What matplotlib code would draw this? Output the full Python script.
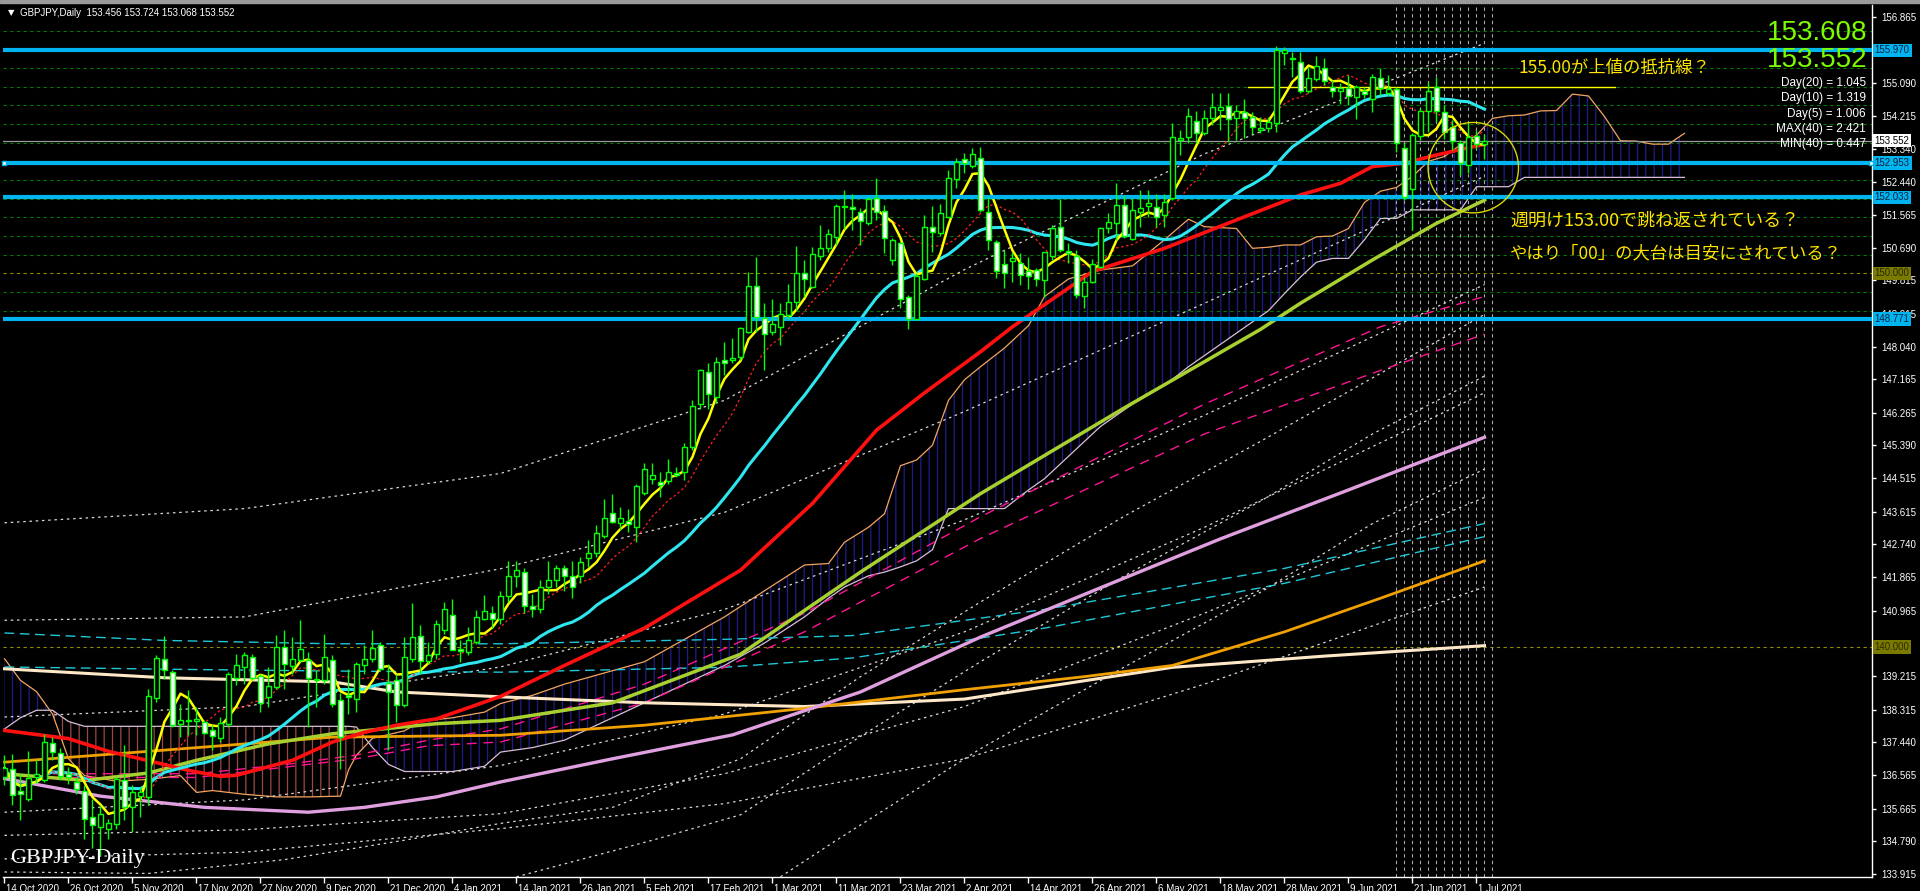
import numpy as np
import pandas as pd
import matplotlib
matplotlib.use("Agg")
import matplotlib.pyplot as plt
from matplotlib.patches import Ellipse, Rectangle
from matplotlib.transforms import blended_transform_factory, ScaledTranslation

# ---------------- data ----------------
date_labels = ["14 Oct 2020", "26 Oct 2020", "5 Nov 2020", "17 Nov 2020", "27 Nov 2020",
               "9 Dec 2020", "21 Dec 2020", "4 Jan 2021", "14 Jan 2021", "26 Jan 2021",
               "5 Feb 2021", "17 Feb 2021", "1 Mar 2021", "11 Mar 2021", "23 Mar 2021",
               "2 Apr 2021", "14 Apr 2021", "26 Apr 2021", "6 May 2021", "18 May 2021",
               "28 May 2021", "9 Jun 2021", "21 Jun 2021", "1 Jul 2021"]

opens = [136.50, 136.74, 136.13, 135.93, 136.50, 136.42, 137.43, 137.15, 136.60, 136.38,
         136.14, 135.44, 135.17, 135.13, 135.26, 136.42, 135.71, 136.00, 135.98, 138.64,
         139.68, 139.32, 137.94, 138.00, 138.00, 137.98, 137.76, 137.57, 137.94, 139.16,
         139.46, 139.73, 139.23, 138.66, 138.92, 139.99, 139.48, 139.64, 139.64, 139.14,
         139.10, 139.64, 138.58, 138.70, 138.61, 139.50, 139.68, 140.05, 139.03, 139.10,
         138.43, 139.68, 140.28, 139.62, 139.82, 140.44, 140.85, 139.95, 139.86, 140.13,
         140.75, 140.90, 140.75, 141.35, 141.90, 142.00, 141.10, 141.00, 141.60, 141.80,
         142.10, 141.90, 141.90, 142.39, 142.52, 142.97, 143.59, 143.32, 143.37, 143.21,
         144.12, 144.50, 144.42, 144.45, 144.66, 144.69, 145.34, 146.50, 147.37, 146.68,
         147.67, 147.68, 147.75, 148.44, 149.67, 148.81, 148.44, 148.55, 148.88, 149.24,
         150.00, 149.64, 150.46, 150.67, 150.96, 151.77, 151.77, 151.65, 151.36, 152.01,
         151.68, 150.36, 150.80, 149.36, 148.77, 149.86, 151.25, 151.09, 151.52, 152.52,
         153.05, 152.87, 153.10, 151.65, 150.83, 150.24, 150.33, 150.29, 150.05, 150.09,
         149.82, 150.46, 151.25, 150.60, 150.47, 149.40, 149.76, 150.16, 151.21, 151.34,
         151.83, 150.91, 151.65, 151.80, 151.79, 151.56, 152.01, 153.57, 153.64, 154.09,
         153.75, 154.15, 154.37, 154.48, 154.15, 154.31, 154.18, 153.84, 153.90, 154.03,
         155.91, 155.78, 155.65, 154.88, 155.20, 155.51, 154.98, 154.88, 154.95, 154.73,
         154.88, 154.66, 155.24, 154.82, 154.94, 153.37, 152.25, 153.68, 154.35, 155.00,
         154.33, 153.93, 153.48, 152.90, 153.68, 153.456]
highs = [137.10, 137.14, 136.60, 137.20, 137.00, 137.67, 137.58, 137.30, 136.78, 136.50,
         136.30, 135.93, 135.75, 135.40, 136.51, 137.36, 136.29, 136.25, 138.88, 139.77,
         140.30, 139.37, 138.48, 138.83, 138.40, 138.03, 137.90, 138.12, 139.32, 139.82,
         139.86, 139.82, 139.28, 139.46, 140.31, 140.44, 140.26, 140.71, 139.86, 139.37,
         140.35, 139.77, 138.75, 139.41, 139.60, 140.04, 140.44, 140.13, 139.55, 139.28,
         140.26, 141.18, 140.57, 140.13, 140.71, 141.20, 141.29, 140.17, 140.53, 140.98,
         141.38, 141.10, 141.50, 142.30, 142.30, 142.10, 141.40, 141.80, 142.30, 142.20,
         142.20, 142.30, 142.40, 142.86, 143.26, 143.95, 144.09, 143.75, 143.68, 144.36,
         144.91, 144.91, 144.69, 145.04, 144.82, 145.45, 146.62, 147.45, 147.59, 147.77,
         148.15, 148.28, 148.57, 150.04, 150.43, 149.20, 149.30, 149.20, 149.71, 150.73,
         150.37, 150.71, 151.29, 151.18, 151.86, 152.23, 152.12, 151.74, 152.05, 152.54,
         151.83, 150.94, 150.85, 149.42, 150.00, 151.56, 151.80, 151.87, 152.77, 153.08,
         153.21, 153.37, 153.39, 152.05, 150.89, 150.63, 150.58, 150.54, 150.45, 150.14,
         150.58, 151.30, 151.98, 150.81, 150.63, 149.91, 150.38, 151.25, 151.61, 152.41,
         152.10, 152.01, 152.23, 152.23, 152.12, 152.13, 154.02, 153.84, 154.42, 154.35,
         154.37, 154.82, 154.82, 154.82, 154.51, 154.67, 154.33, 154.18, 154.18, 156.09,
         156.07, 155.93, 155.93, 155.53, 155.82, 155.76, 155.18, 155.09, 155.31, 155.04,
         155.00, 155.35, 155.49, 155.31, 155.00, 153.48, 153.75, 154.44, 155.13, 155.27,
         154.51, 154.10, 153.57, 154.02, 153.84, 153.724]
lows = [136.30, 135.75, 135.35, 135.88, 136.35, 136.38, 136.96, 136.42, 136.33, 136.07,
        134.86, 134.60, 134.40, 134.86, 135.12, 135.35, 135.04, 135.44, 135.75, 138.52,
        139.15, 137.85, 137.58, 137.63, 137.63, 137.67, 137.23, 137.45, 137.85, 138.97,
        139.01, 139.10, 138.25, 138.39, 138.88, 138.88, 139.28, 139.59, 137.85, 138.39,
        139.01, 138.39, 136.73, 138.21, 138.25, 139.28, 139.59, 139.37, 137.23, 137.99,
        138.39, 139.59, 139.28, 139.55, 139.68, 140.35, 139.91, 139.60, 139.77, 140.08,
        140.71, 140.50, 140.60, 141.20, 141.60, 140.90, 140.80, 140.90, 141.40, 141.60,
        141.50, 141.30, 141.70, 142.14, 142.41, 142.90, 143.31, 143.12, 143.08, 142.81,
        144.06, 144.37, 144.02, 144.37, 144.55, 144.46, 145.27, 146.38, 146.38, 146.53,
        147.28, 147.59, 147.68, 148.39, 148.44, 147.41, 148.35, 148.08, 148.79, 149.02,
        149.37, 149.60, 150.36, 150.58, 150.76, 151.20, 151.16, 150.76, 151.30, 151.43,
        150.54, 150.22, 149.06, 148.50, 148.75, 149.82, 150.58, 151.00, 151.47, 152.28,
        152.68, 152.81, 151.65, 150.63, 149.87, 149.60, 149.78, 149.69, 149.57, 149.65,
        149.38, 150.36, 150.58, 150.27, 149.33, 149.07, 149.74, 150.14, 151.07, 150.89,
        150.94, 150.89, 151.25, 151.52, 151.25, 151.25, 151.96, 153.17, 153.48, 153.48,
        153.71, 153.97, 153.84, 153.52, 153.57, 153.62, 153.73, 153.75, 153.79, 153.79,
        155.58, 155.27, 154.82, 154.82, 155.16, 155.04, 154.73, 154.53, 154.51, 154.12,
        154.69, 154.33, 154.77, 154.77, 153.26, 151.96, 151.16, 153.57, 153.79, 154.06,
        153.61, 153.30, 152.63, 152.68, 153.32, 153.068]
closes = [136.75, 136.02, 136.06, 136.49, 136.60, 137.45, 137.18, 136.53, 136.52, 136.20,
          135.40, 135.22, 135.53, 135.28, 136.47, 135.71, 136.11, 136.10, 138.67, 139.71,
          139.39, 137.90, 138.05, 138.04, 138.06, 137.69, 137.60, 137.96, 139.28, 139.52,
          139.79, 139.17, 138.49, 138.94, 139.99, 139.53, 139.66, 139.95, 139.17, 139.10,
          139.73, 138.46, 137.58, 138.66, 139.55, 139.68, 139.98, 139.41, 138.79, 138.43,
          139.73, 140.26, 139.62, 139.79, 140.60, 141.00, 139.92, 139.90, 140.19, 140.80,
          140.96, 140.75, 141.35, 141.90, 142.05, 141.10, 141.00, 141.60, 141.80, 142.10,
          141.90, 141.60, 142.27, 142.50, 143.05, 143.44, 143.35, 143.44, 143.30, 144.30,
          144.75, 144.59, 144.33, 144.69, 144.60, 145.34, 146.46, 147.41, 146.77, 147.62,
          147.61, 147.74, 148.53, 149.66, 148.82, 148.37, 148.64, 148.90, 149.24, 150.00,
          149.86, 150.51, 150.67, 151.05, 151.81, 151.81, 151.71, 151.41, 151.98, 151.65,
          150.94, 150.89, 149.30, 148.77, 149.94, 151.25, 151.11, 151.61, 152.56, 152.99,
          152.96, 153.19, 151.70, 150.89, 150.07, 150.02, 150.40, 149.96, 149.93, 149.84,
          150.56, 151.22, 150.63, 150.54, 149.42, 149.76, 150.24, 151.22, 151.38, 151.83,
          151.00, 151.70, 151.74, 151.88, 151.52, 151.92, 153.64, 153.62, 154.21, 153.77,
          154.15, 154.46, 154.46, 154.12, 154.35, 154.15, 153.93, 153.90, 154.06, 155.98,
          155.98, 155.74, 154.88, 155.24, 155.56, 155.15, 154.89, 154.95, 154.75, 154.98,
          154.80, 155.27, 154.95, 154.94, 153.48, 152.05, 153.71, 154.36, 154.89, 154.35,
          153.79, 153.55, 152.96, 153.66, 153.46, 153.552]

# long moving averages, read at a few bars (bar index, price)
red_idx = [0, 8, 13, 17, 23, 27, 29, 36, 41, 45, 49, 54, 62, 70, 80, 92, 101, 109, 115, 122,
           126, 136, 145, 154, 162, 167, 171, 175, 179, 185]
red_val = [137.76, 137.54, 137.20, 137.00, 136.69, 136.53, 136.56, 136.96, 137.45, 137.71,
           137.90, 138.07, 138.67, 139.50, 140.50, 142.05, 143.84, 145.80, 146.80, 147.90,
           148.57, 150.05, 150.67, 151.43, 152.10, 152.41, 152.86, 152.95, 153.17, 153.46]
lime_idx = [0, 10, 18, 24, 33, 41, 54, 62, 76, 92, 107, 122, 140, 157, 162, 171, 179, 185]
lime_val = [136.60, 136.42, 136.62, 136.96, 137.40, 137.67, 137.94, 138.03, 138.50, 139.80,
            142.00, 144.10, 146.40, 148.50, 149.20, 150.36, 151.34, 151.96]
pink_idx = [0, 12, 25, 38, 45, 54, 62, 76, 91, 107, 122, 137, 152, 168, 185]
pink_val = [136.47, 136.00, 135.70, 135.57, 135.70, 135.98, 136.38, 137.00, 137.64, 138.79,
            140.26, 141.58, 142.89, 144.20, 145.61]
orange_idx = [0, 18, 41, 62, 80, 100, 120, 135, 146, 160, 172, 185]
orange_val = [136.91, 137.20, 137.58, 137.63, 137.90, 138.35, 138.85, 139.20, 139.50, 140.40,
              141.30, 142.30]
cream_idx = [0, 20, 41, 49, 58, 62, 80, 100, 120, 146, 165, 185]
cream_val = [139.41, 139.17, 139.06, 138.79, 138.70, 138.66, 138.50, 138.40, 138.60, 139.45,
             139.75, 140.03]
cyan_d1_idx = [0, 20, 41, 62, 90, 106, 130, 160, 185]
cyan_d1_val = [140.37, 140.17, 140.08, 140.08, 140.20, 140.30, 141.00, 142.10, 143.30]
cyan_d2_idx = [0, 20, 41, 62, 90, 106, 130, 160, 185]
cyan_d2_val = [139.46, 139.40, 139.35, 139.32, 139.45, 139.70, 140.50, 141.70, 142.95]
mag_d1_idx = [6, 24, 36, 44, 53, 62, 80, 100, 122, 150, 172, 185]
mag_d1_val = [136.60, 136.60, 136.87, 137.10, 137.50, 137.80, 139.00, 140.90, 143.48, 146.50,
              148.57, 149.38]
mag_d2_idx = [6, 24, 36, 44, 53, 62, 80, 100, 122, 150, 172, 185]
mag_d2_val = [136.50, 136.50, 136.80, 137.00, 137.35, 137.45, 138.50, 140.40, 142.90, 145.70,
              147.40, 148.37]

# dotted envelope lines (band index list, values)
env_idx = [0, 30, 62, 90, 120, 150, 185]
env_vals = [
    [143.32, 143.70, 144.64, 146.60, 150.10, 153.20, 156.16],
    [140.71, 140.80, 142.09, 143.60, 146.30, 149.20, 152.60],
    [138.12, 138.40, 139.46, 141.00, 143.40, 146.20, 149.70],
    [135.57, 135.90, 136.82, 138.20, 140.40, 143.20, 146.80],
    [134.95, 135.10, 135.53, 136.60, 138.40, 140.90, 144.00],
    [134.32, 134.50, 135.13, 135.80, 137.00, 139.00, 141.60],
]
low_env1_idx = [0, 18, 35, 50, 62, 76, 92, 107, 122, 140, 157, 185]
low_env1_val = [133.97, 133.93, 134.30, 134.82, 135.27, 135.70, 137.00, 139.20, 141.20, 143.50,
                145.50, 148.90]
low_env2_idx = [64, 81, 92, 107, 122, 140, 157, 171, 185]
low_env2_val = [133.84, 134.82, 135.50, 137.60, 139.60, 141.90, 143.90, 145.70, 147.25]
low_env3_idx = [97, 104, 122, 140, 157, 171, 185]
low_env3_val = [133.84, 134.82, 137.27, 139.46, 141.46, 143.30, 144.76]

# ichimoku cloud (shifted), bar index, span A, span B
kumo_idx = [0, 2, 4, 6, 8, 10, 14, 18, 22, 24, 26, 30, 34, 38, 42, 43, 44, 46, 48, 50, 52, 56,
            60, 62, 66, 70, 75, 80, 85, 90, 95, 100, 103, 105, 108, 110, 112, 114, 116, 118,
            120, 122, 125, 128, 130, 133, 137, 141, 145, 148, 150, 154, 156, 158, 160, 162,
            164, 166, 168, 170, 172, 174, 176, 178, 180, 182, 184, 186, 188, 190, 192, 194,
            196, 198, 200, 202, 204, 206, 208, 210]
span_a = [139.68, 139.10, 138.80, 138.20, 137.00, 136.55, 136.40, 136.45, 136.55, 136.10,
          136.15, 136.05, 135.98, 135.98, 136.00, 136.70, 137.10, 137.55, 137.65, 137.75,
          138.00, 138.10, 138.25, 138.48, 138.70, 139.00, 139.30, 139.60, 140.20, 140.80,
          141.50, 142.19, 142.23, 142.80, 143.20, 143.56, 144.85, 145.00, 145.40, 146.60,
          147.15, 147.50, 148.00, 148.60, 149.38, 149.85, 150.09, 150.20, 150.90, 151.45,
          151.25, 151.20, 150.67, 150.70, 150.76, 150.76, 150.98, 151.00, 151.20, 151.90,
          152.20, 152.30, 152.60, 153.00, 153.13, 153.44, 153.70, 154.15, 154.22, 154.24,
          154.35, 154.36, 154.80, 154.75, 154.20, 153.55, 153.54, 153.46, 153.46, 153.75]
span_b = [137.80, 138.10, 138.30, 138.30, 138.00, 137.87, 137.87, 137.87, 137.87, 137.87,
          137.87, 137.87, 137.87, 137.87, 137.87, 137.87, 137.85, 137.30, 136.85, 136.66,
          136.66, 136.66, 136.80, 137.18, 137.30, 137.50, 138.00, 138.50, 139.00, 139.50,
          140.10, 140.80, 141.30, 141.60, 141.90, 142.00, 142.14, 142.30, 142.60, 143.70,
          143.70, 143.70, 143.70, 144.20, 144.50, 145.10, 145.90, 146.50, 147.00, 147.50,
          147.80, 148.40, 148.70, 149.00, 149.46, 149.90, 150.30, 150.40, 150.40, 150.90,
          151.47, 151.47, 151.70, 151.70, 151.70, 151.70, 152.32, 152.32, 152.32, 152.57,
          152.57, 152.57, 152.57, 152.57, 152.57, 152.57, 152.57, 152.57, 152.57, 152.57]

# horizontal levels
cyan_levels = [155.970, 152.953, 152.033, 148.771]
olive_levels = [150.000, 140.000]
grid_levels = [156.5, 156.0, 155.5, 155.0, 154.5, 154.0, 153.5, 153.0, 152.5, 152.0,
               151.5, 151.0, 150.5, 149.5, 149.0]
ytick_vals = [156.865, 155.090, 154.215, 153.340, 152.440, 151.565, 150.690, 149.815,
              148.915, 148.040, 147.165, 146.265, 145.390, 144.515, 143.615, 142.740,
              141.865, 140.965, 139.215, 138.315, 137.440, 136.565, 135.665,
              134.790, 133.915]
bid = 153.552
resist_155 = 155.00

stats_text = ["Day(20) = 1.045", "Day(10) = 1.319", "Day(5) = 1.006",
              "MAX(40) = 2.421", "MIN(40) = 0.447"]

# ---------------- figure ----------------
W, H = 1920, 891
fig = plt.figure(figsize=(W / 100, H / 100), dpi=100, facecolor="black")
ax = fig.add_axes([3 / W, 14 / H, 1869 / W, 872 / H])
ax.set_facecolor("black")
ax.set_xlim(-0.1875, 233.44)
ax.set_ylim(133.835, 157.186)

plt.rcParams["hatch.linewidth"] = 0.9

# grid-like dashed levels
for lv in grid_levels:
    ax.axhline(lv, color="#007A00", lw=0.8, ls=(0, (3, 3)), zorder=1)
for lv in olive_levels:
    ax.axhline(lv, color="#8C8C00", lw=0.8, ls=(0, (3, 3)), zorder=1)

# ichimoku cloud
ka = np.array(span_a)
kb = np.array(span_b)
ax.fill_between(kumo_idx, ka, kb, where=ka >= kb, interpolate=True, facecolor="none",
                edgecolor="#1c1c8a", hatch="||", lw=0, zorder=2)
ax.fill_between(kumo_idx, ka, kb, where=ka < kb, interpolate=True, facecolor="none",
                edgecolor="#9a4a42", hatch="||", lw=0, zorder=2)
ax.plot(kumo_idx, span_a, color="#F4A460", lw=0.9, zorder=3)
ax.plot(kumo_idx, span_b, color="#D8BFD8", lw=0.9, zorder=3)

# dotted envelopes
dot = dict(color="#D8D8D8", lw=0.9, ls=(0, (2, 3)), zorder=3)
for vals in env_vals:
    ax.plot(env_idx, vals, **dot)
ax.plot(low_env1_idx, low_env1_val, **dot)
ax.plot(low_env2_idx, low_env2_val, **dot)
ax.plot(low_env3_idx, low_env3_val, **dot)

# vertical dashed lines in the last weeks
for vx in range(174, 187):
    ax.axvline(vx, color="#A8A8A8", lw=0.8, ls=(0, (3, 3)), zorder=2)

# long moving averages
ax.plot(cyan_d1_idx, cyan_d1_val, color="#1EC8D8", lw=1.0, ls=(0, (7, 4)), zorder=4)
ax.plot(cyan_d2_idx, cyan_d2_val, color="#1EC8D8", lw=1.0, ls=(0, (7, 4)), zorder=4)
ax.plot(mag_d1_idx, mag_d1_val, color="#FF1493", lw=1.0, ls=(0, (7, 5)), zorder=4)
ax.plot(mag_d2_idx, mag_d2_val, color="#FF1493", lw=1.0, ls=(0, (7, 5)), zorder=4)
ax.plot(cream_idx, cream_val, color="#FFE8C8", lw=2.2, zorder=4)
ax.plot(orange_idx, orange_val, color="#F0A000", lw=2.0, zorder=4)
ax.plot(pink_idx, pink_val, color="#E0A0E0", lw=2.4, zorder=4)
ax.plot(lime_idx, lime_val, color="#A8D030", lw=2.5, zorder=4)
ax.plot(red_idx, red_val, color="#FF1010", lw=2.6, zorder=5)

# short moving averages computed from the closes
cs = pd.Series(closes)
bars = np.arange(len(closes))
ax.plot(bars, cs.rolling(25, min_periods=1).mean(), color="#2EE6F0", lw=2.2, zorder=5)
ax.plot(bars, cs.rolling(10, min_periods=1).mean(), color="#FF2020", lw=0.9,
        ls=(0, (2, 2)), zorder=5)
ax.plot(bars, cs.rolling(5, min_periods=1).mean(), color="#FFFF00", lw=1.8, zorder=6)

# horizontal lines
for lv in cyan_levels:
    ax.axhline(lv, color="#00B4F0", lw=3, zorder=7)
ax.plot([-0.05, 233.3], [152.953, 152.953], ls="none", marker="s", ms=3.5, mfc="white",
        mec="#00B4F0", zorder=8, clip_on=False)
ax.axhline(bid, color="#9A9A9A", lw=0.9, zorder=3)
ax.plot([155.4, 201.3], [resist_155, resist_155], color="#FFFF00", lw=1.0, zorder=7)

# candles
o = np.array(opens)
c = np.array(closes)
hi = np.array(highs)
lo = np.array(lows)
up = c >= o
ax.vlines(bars, lo, hi, color="#00FF00", lw=1.0, zorder=8)
bottom = np.minimum(o, c)
height = np.maximum(np.abs(c - o), 0.04)
ax.bar(bars[up], height[up], bottom=bottom[up], width=0.62, facecolor="black",
       edgecolor="#00FF00", lw=1.0, zorder=9)
ax.bar(bars[~up], height[~up], bottom=bottom[~up], width=0.62, facecolor="white",
       edgecolor="#00FF00", lw=1.0, zorder=9)

# yellow circle
ax.add_patch(Ellipse((183.6, 152.83), 11.3, 2.42, fill=False, ec="#D8D800", lw=1.0, zorder=10))

# ---------------- axes / ticks ----------------
for side in ["left", "top"]:
    ax.spines[side].set_visible(False)
for side in ["right", "bottom"]:
    ax.spines[side].set_color("white")
    ax.spines[side].set_linewidth(1.0)

ax.yaxis.tick_right()
ax.set_yticks(ytick_vals)
ax.set_yticklabels([f"{v:.3f}" for v in ytick_vals], family="Liberation Sans", fontsize=7,
                   color="white")
ax.tick_params(axis="y", colors="white", length=3, width=1, pad=4)

ax.set_xticks(range(0, 8 * len(date_labels), 8))
ax.set_xticklabels(date_labels, family="Liberation Sans", fontsize=7, color="white", ha="left")
ax.tick_params(axis="x", colors="white", length=4, width=1, pad=1)
for lab in ax.get_xticklabels():
    lab.set_transform(lab.get_transform() + ScaledTranslation(2 / 100, 0, fig.dpi_scale_trans))

# price boxes on the right axis
tr = blended_transform_factory(ax.transAxes, ax.transData)
def price_box(v, bg, fg):
    ax.text(1.0015, v, f"{v:.3f}", transform=tr, ha="left", va="center", fontsize=7,
            family="Liberation Sans", color=fg, zorder=20, clip_on=False,
            bbox=dict(boxstyle="square,pad=0.18", fc=bg, ec="none"))

for lv in cyan_levels:
    price_box(lv, "#00B4F0", "#0A1E3C")
for lv in olive_levels:
    price_box(lv, "#7A7A00", "#2A2A00")
price_box(bid, "white", "black")

# ---------------- texts ----------------
def ftext(px, py, s, **kw):
    fig.text(px / W, 1 - py / H, s, **kw)

fig.add_artist(Rectangle((0, 1 - 3 / H), 1, 3 / H, transform=fig.transFigure,
                         color="#9A9A9A", zorder=0))
ftext(8, 13, "\u25bc", color="white", fontsize=6, va="center", family="DejaVu Sans")
ftext(20, 13, "GBPJPY,Daily  153.456 153.724 153.068 153.552", color="white", fontsize=7,
      va="center", family="Liberation Sans")

ftext(1867, 33, "153.608", color="#7CFC00", fontsize=20, ha="right", va="center",
      family="Liberation Sans")
ftext(1867, 60, "153.552", color="#7CFC00", fontsize=20, ha="right", va="center",
      family="Liberation Sans")
for k, s in enumerate(stats_text):
    ftext(1866, 83 + 15.3 * k, s, color="white", fontsize=8.5, ha="right", va="center",
          family="Liberation Sans")

jp = ["Noto Sans CJK JP", "DejaVu Sans"]
ftext(1518, 68, "155.00が上値の抵抗線？", color="#FFE400", fontsize=12.5, va="center",
      family=jp)
ftext(1510, 221, "週明け153.00で跳ね返されている？", color="#FFE400", fontsize=13,
      va="center", family=jp)
ftext(1510, 253, "やはり「00」の大台は目安にされている？", color="#FFE400", fontsize=12.5,
      va="center", family=jp)

ftext(10, 858, "GBPJPY-Daily", color="white", fontsize=16, va="center",
      family="Liberation Serif")

fig.savefig("out.png", dpi=100, facecolor="black")
